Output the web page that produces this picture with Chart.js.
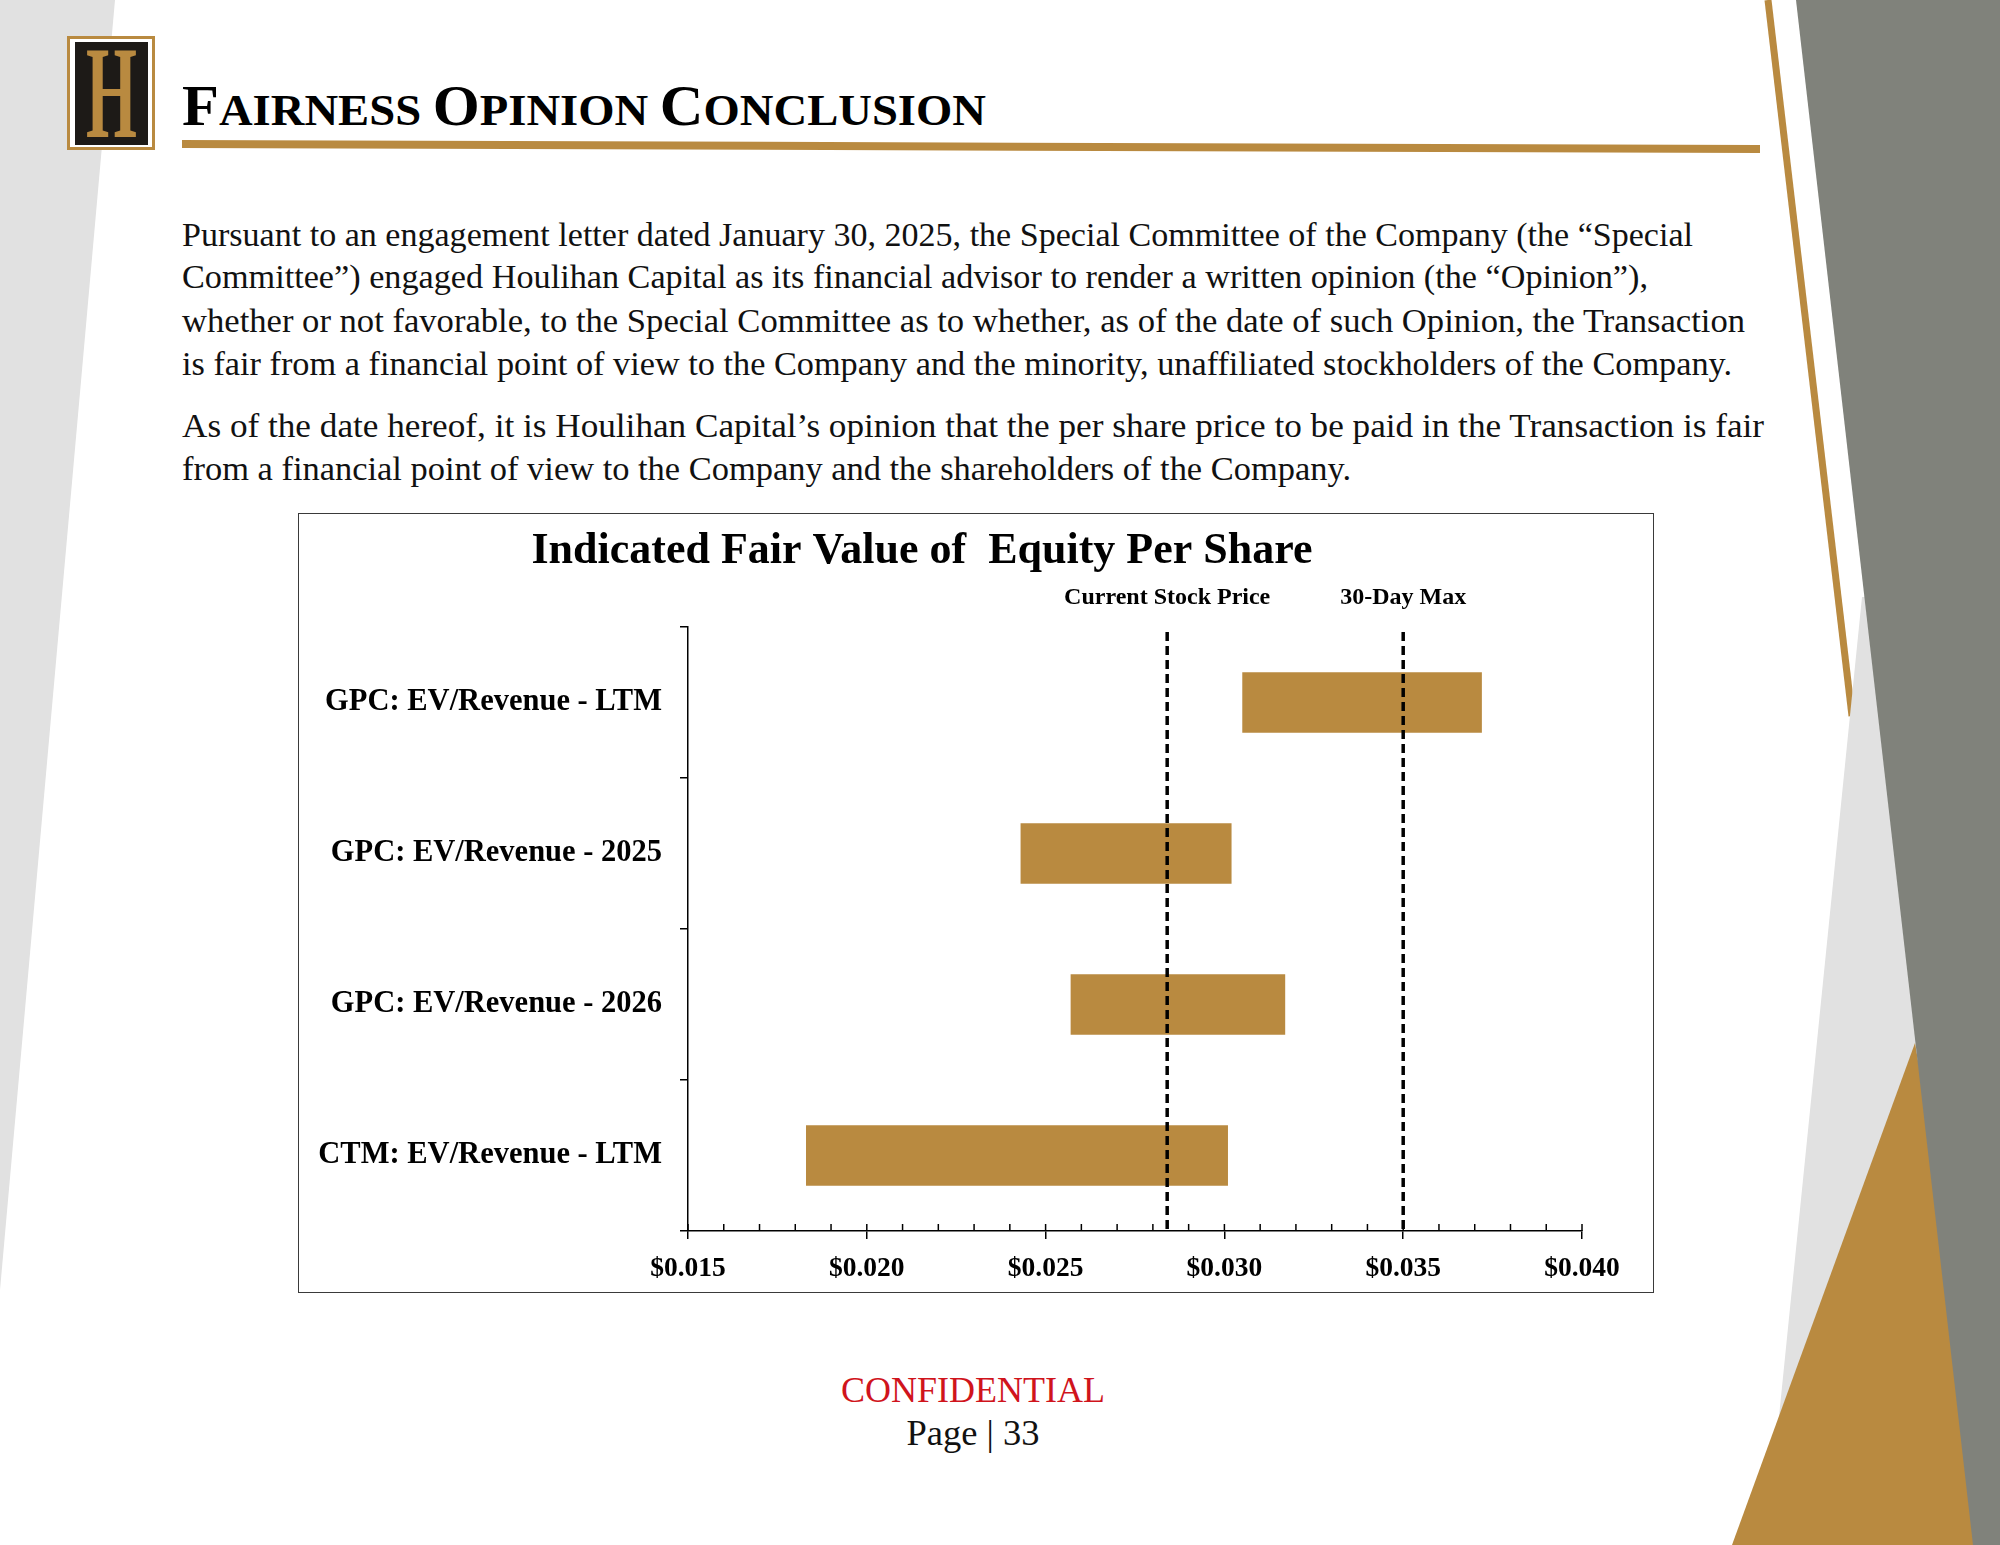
<!DOCTYPE html>
<html>
<head>
<meta charset="utf-8">
<title>Fairness Opinion Conclusion</title>
<script src="https://cdn.jsdelivr.net/npm/chart.js@4.4.1/dist/chart.umd.min.js"></script>
<style>
  html, body { margin: 0; padding: 0; background: #fff; }
  body { width: 2000px; height: 1545px; position: relative; overflow: hidden; font-family: "Liberation Serif", serif; }
  #page { position: absolute; left: 0; top: 0; }
  #chartBox { position: absolute; left: 298px; top: 513px; width: 1356px; height: 780px; background: #fff; }
  #chartFrame { position: absolute; left: 298px; top: 513px; width: 1356px; height: 780px; box-sizing: border-box; border: 1.5px solid #3a3a3a; pointer-events: none; }
</style>
</head>
<body>

<svg id="page" width="2000" height="1545" viewBox="0 0 2000 1545" font-family="Liberation Serif, serif">
  <!-- background shapes -->
  <polygon points="0,0 115,0 0,1290" fill="#e1e1e1"/>
  <line x1="1768" y1="0" x2="1852" y2="716" stroke="#b98a40" stroke-width="7"/>
  <polygon points="1862,597 1868,597 2000,1545 1766,1545" fill="#e1e1e1"/>
  <polygon points="1915,1043 2000,1545 1732,1545" fill="#b98a40"/>
  <polygon points="1796,0 2000,0 2000,1545 1973,1545" fill="#80827b"/>

  <!-- logo -->
  <rect x="68.5" y="37.5" width="85" height="111" fill="#fff" stroke="#b98a40" stroke-width="3"/>
  <rect x="75" y="42" width="73" height="103" fill="#1d1a17"/>
  <text x="111.5" y="137" font-size="131" font-weight="bold" text-anchor="middle" textLength="51" lengthAdjust="spacingAndGlyphs" fill="#b98a40">H</text>

  <!-- heading -->
  <text x="182" y="125" font-size="44" font-weight="bold" fill="#000" textLength="804" lengthAdjust="spacingAndGlyphs"><tspan font-size="57">F</tspan>AIRNESS <tspan font-size="57">O</tspan>PINION <tspan font-size="57">C</tspan>ONCLUSION</text>
  <polygon points="182,140 1760,145 1760,153 182,148" fill="#b98a40"/>

  <!-- body text -->
  <g font-size="34" fill="#111">
    <text x="182" y="246" textLength="1511" lengthAdjust="spacingAndGlyphs">Pursuant to an engagement letter dated January 30, 2025, the Special Committee of the Company (the “Special</text>
    <text x="182" y="288" textLength="1466" lengthAdjust="spacingAndGlyphs">Committee”) engaged Houlihan Capital as its financial advisor to render a written opinion (the “Opinion”),</text>
    <text x="182" y="332" textLength="1563" lengthAdjust="spacingAndGlyphs">whether or not favorable, to the Special Committee as to whether, as of the date of such Opinion, the Transaction</text>
    <text x="182" y="375" textLength="1550" lengthAdjust="spacingAndGlyphs">is fair from a financial point of view to the Company and the minority, unaffiliated stockholders of the Company.</text>
    <text x="182" y="437" textLength="1582" lengthAdjust="spacingAndGlyphs">As of the date hereof, it is Houlihan Capital’s opinion that the per share price to be paid in the Transaction is fair</text>
    <text x="182" y="480" textLength="1169" lengthAdjust="spacingAndGlyphs">from a financial point of view to the Company and the shareholders of the Company.</text>
  </g>

  <!-- footer -->
  <text x="973" y="1402" font-size="36" fill="#d0141c" text-anchor="middle" textLength="264" lengthAdjust="spacingAndGlyphs">CONFIDENTIAL</text>
  <text x="973" y="1445" font-size="36" fill="#111" text-anchor="middle" textLength="133" lengthAdjust="spacingAndGlyphs">Page | 33</text>
</svg>

<div id="chartBox"><canvas id="chart"></canvas></div>
<div id="chartFrame"></div>

<script>
// ---- data ----
const categories = ['GPC: EV/Revenue - LTM', 'GPC: EV/Revenue - 2025', 'GPC: EV/Revenue - 2026', 'CTM: EV/Revenue - LTM'];
const rangeLow  = [0.0305, 0.0243, 0.0257, 0.0183];
const rangeHigh = [0.0372, 0.0302, 0.0317, 0.0301];
const refLabels = ['Current Stock Price', '30-Day Max'];
const refValues = [0.0284, 0.0350];
const axisMin = 0.015, axisMax = 0.040, majorStep = 0.005, minorStep = 0.001;
const chartTitle = 'Indicated Fair Value of  Equity Per Share';

const FONT = "'Liberation Serif', serif";
const GOLD = '#b98a40';

// title, dashed reference lines + labels, small inner ticks on x axis
const chartDecor = {
  id: 'chartDecor',
  afterDraw(chart) {
    const { ctx, chartArea, scales } = chart;
    const x = scales.x;
    ctx.save();

    ctx.fillStyle = '#000';
    ctx.textAlign = 'center';
    ctx.textBaseline = 'alphabetic';
    ctx.font = `bold 44px ${FONT}`;
    ctx.fillText(chartTitle, 624, 50);

    // minor ticks (inside, every 0.001)
    ctx.strokeStyle = '#000';
    ctx.lineWidth = 1.5;
    const n = Math.round((axisMax - axisMin) / minorStep);
    for (let i = 0; i <= n; i++) {
      const px = x.getPixelForValue(axisMin + i * minorStep);
      ctx.beginPath();
      ctx.moveTo(px, chartArea.bottom - 7);
      ctx.lineTo(px, chartArea.bottom);
      ctx.stroke();
    }

    // reference lines
    ctx.font = `bold 24px ${FONT}`;
    refValues.forEach((v, i) => {
      const px = x.getPixelForValue(v);
      ctx.beginPath();
      ctx.setLineDash([9, 5]);
      ctx.lineWidth = 3.5;
      ctx.moveTo(px, chartArea.top + 5);
      ctx.lineTo(px, chartArea.bottom);
      ctx.stroke();
      ctx.setLineDash([]);
      ctx.fillText(refLabels[i], px, chartArea.top - 23);
    });
    ctx.restore();
  }
};

new Chart(document.getElementById('chart'), {
  type: 'bar',
  data: {
    labels: categories,
    datasets: [{
      data: categories.map((c, i) => [rangeLow[i], rangeHigh[i]]),
      backgroundColor: GOLD,
      borderWidth: 0,
      barPercentage: 0.4,
      categoryPercentage: 1
    }]
  },
  options: {
    indexAxis: 'y',
    responsive: true,
    maintainAspectRatio: false,
    animation: false,
    layout: { padding: { top: 114, right: 72, left: 0, bottom: 0 } },
    plugins: { legend: { display: false }, tooltip: { enabled: false } },
    scales: {
      x: {
        type: 'linear', min: axisMin, max: axisMax,
        ticks: {
          stepSize: majorStep,
          callback: v => '$' + v.toFixed(3),
          color: '#000', padding: 13, maxRotation: 0,
          font: { family: FONT, size: 27.5, weight: 'bold' }
        },
        grid: { drawOnChartArea: false, drawTicks: true, tickLength: 8, color: '#000', lineWidth: 1.5 },
        border: { color: '#000', width: 1.5 },
        afterFit: s => { s.height = 62; }
      },
      y: {
        ticks: { color: '#000', padding: 18, font: { family: FONT, size: 30.5, weight: 'bold' } },
        grid: { drawOnChartArea: false, tickLength: 8, color: '#000', lineWidth: 1.5, offset: true },
        border: { color: '#000', width: 1.5 },
        afterFit: s => { s.width = 390; }
      }
    }
  },
  plugins: [chartDecor]
});
</script>
</body>
</html>
